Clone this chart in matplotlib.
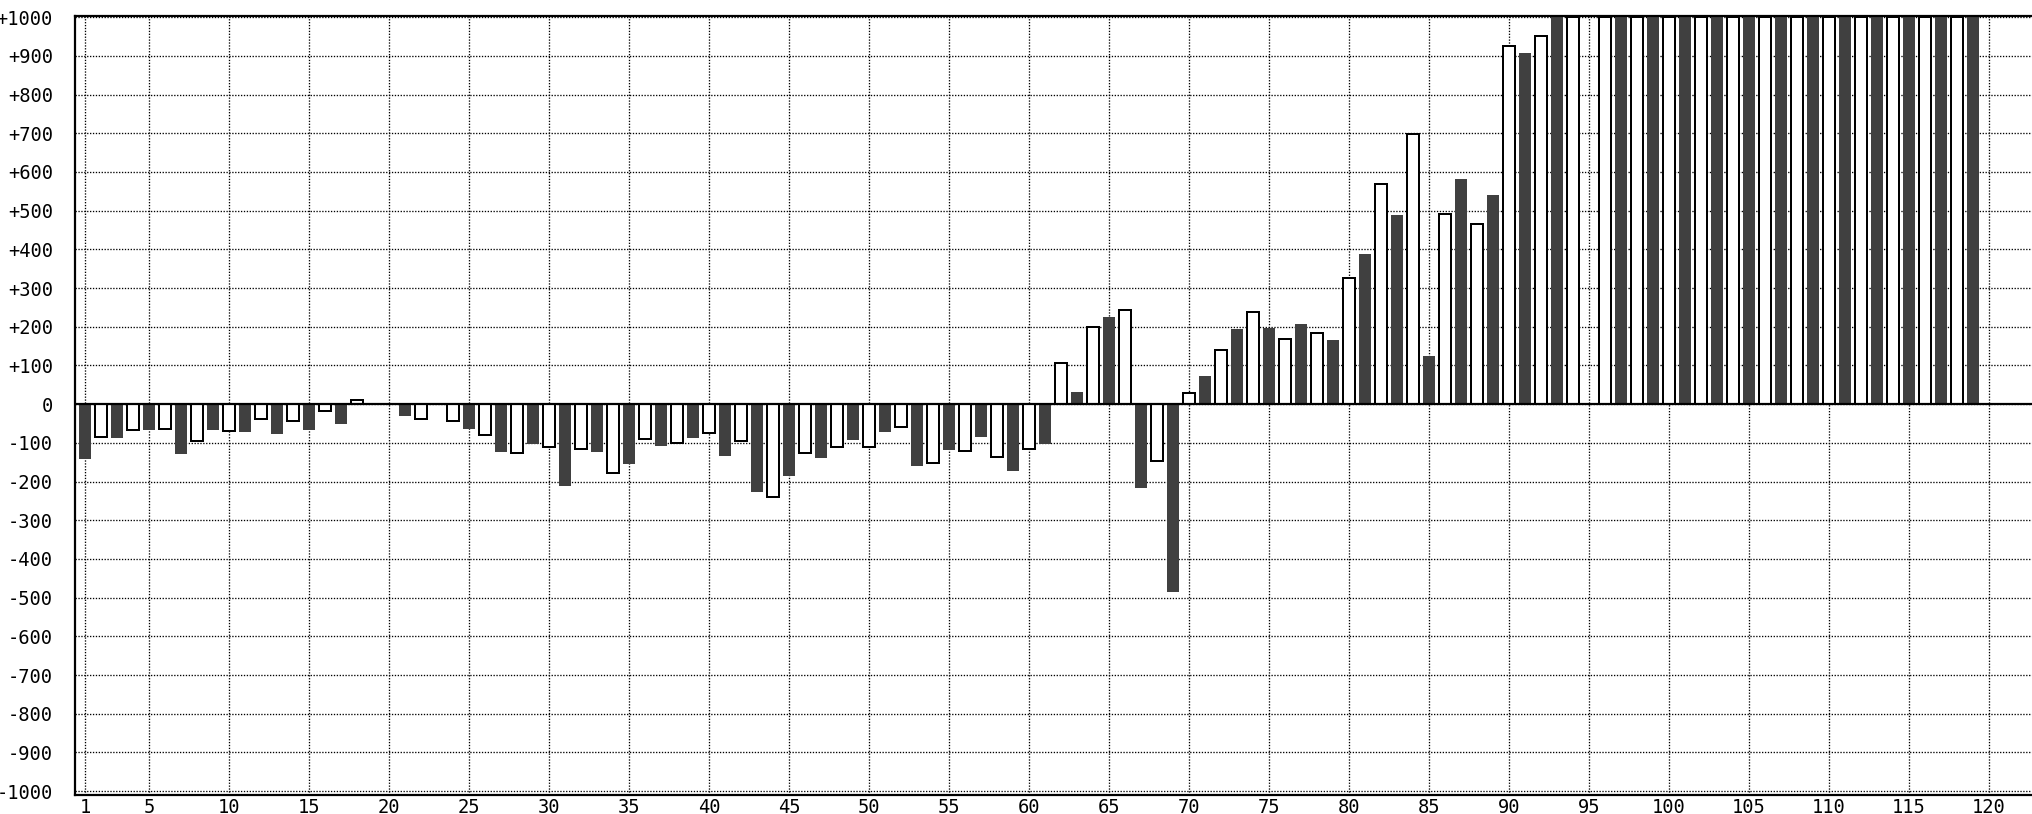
import matplotlib
matplotlib.use("Agg")
import matplotlib.pyplot as plt
from matplotlib.ticker import FuncFormatter

# values for bars 1..119 (anything above +1000 is cut off at the top)
days = list(range(1, 120))
values = [
    -143, -85, -87, -67, -67, -64, -128, -96, -66, -69,
    -72, -38, -77, -43, -66, -17, -51, 11, 0, 0,
    -30, -39, 0, -43, -65, -80, -123, -127, -102, -111,
    -211, -116, -123, -179, -155, -90, -107, -101, -87, -75,
    -133, -95, -226, -241, -185, -127, -138, -111, -92, -111,
    -71, -60, -159, -153, -118, -122, -86, -136, -174, -117,
    -102, 107, 31, 200, 224, 242, -216, -147, -485, 29,
    73, 139, 193, 237, 197, 169, 208, 185, 167, 325,
    389, 570, 488, 698, 125, 491, 581, 465, 540, 926,
    907, 952, 1000, 1000, 4, 1000, 1000, 1000, 1000, 1000,
    1000, 1000, 1000, 1000, 1000, 1000, 1000, 1000, 1000, 1000,
    1000, 1000, 1000, 1000, 1000, 1000, 1000, 1000, 1000,
]
x_ticks = [1] + list(range(5, 121, 5))
y_ticks = list(range(-1000, 1001, 100))


def sign_label(v, pos):
    if v > 0:
        return "+%d" % v
    return "%d" % v


def draw_chart():
    fig = plt.figure(figsize=(20.32, 8.14), dpi=100)
    ax = fig.add_axes([75 / 2032, 19 / 814, 1 - 75 / 2032, 779 / 814])

    dark_x = [d for d in days if d % 2 == 1]
    dark_v = [v for d, v in zip(days, values) if d % 2 == 1]
    white_x = [d for d in days if d % 2 == 0]
    white_v = [v for d, v in zip(days, values) if d % 2 == 0]

    ax.bar(dark_x, dark_v, width=0.74, color="#404040", linewidth=0, zorder=2)
    ax.bar(white_x, white_v, width=0.72, color="white", edgecolor="black",
           linewidth=1.44, zorder=2)

    # zero line
    ax.axhline(0, color="black", linewidth=1.6, zorder=3)

    ax.set_xlim(0.375, 122.69)
    ax.set_ylim(-1010, 1003)

    ax.set_xticks(x_ticks)
    ax.set_yticks(y_ticks)
    ax.yaxis.set_major_formatter(FuncFormatter(sign_label))
    ax.tick_params(length=0, labelsize=13.5)
    ax.tick_params(axis="y", pad=16)
    ax.tick_params(axis="x", pad=2)
    for lab in ax.get_xticklabels() + ax.get_yticklabels():
        lab.set_family("DejaVu Sans Mono")

    # dotted grid under the bars
    ax.set_axisbelow(True)
    ax.grid(True, color="black", linestyle=(0, (1, 1.2)), linewidth=0.95)

    for side in ["left", "top", "bottom"]:
        ax.spines[side].set_linewidth(1.6)
        ax.spines[side].set_color("black")
    ax.spines["right"].set_visible(False)

    fig.savefig("out.png", dpi=100, facecolor="white")


if __name__ == "__main__":
    draw_chart()
